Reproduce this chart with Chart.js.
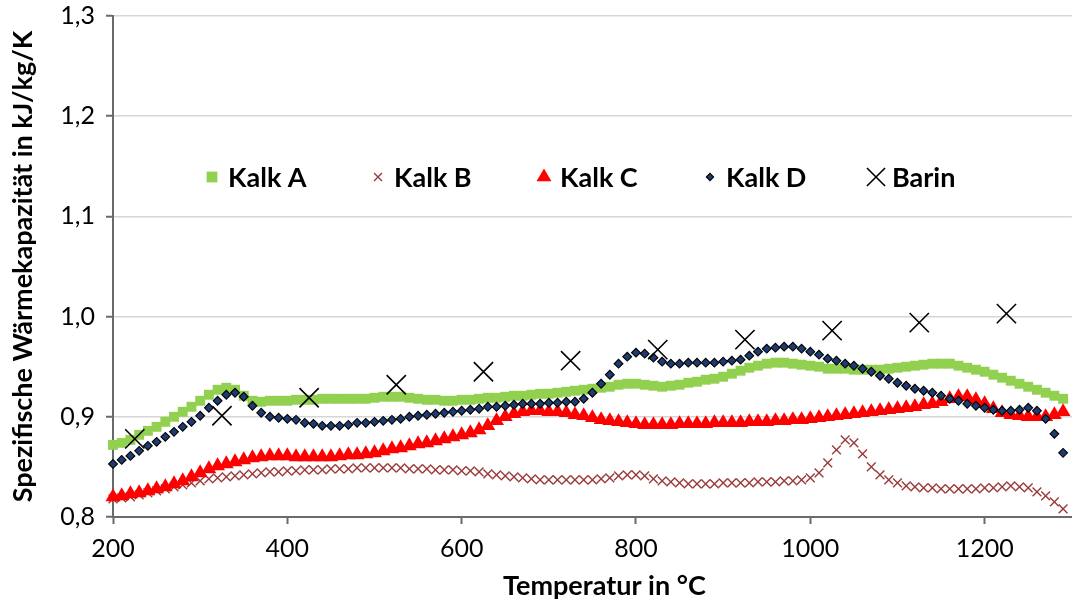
<!DOCTYPE html>
<html>
<head>
<meta charset="utf-8">
<title>Spezifische Wärmekapazität</title>
<script src="https://cdn.jsdelivr.net/npm/chart.js@4"></script>
<style>
  html, body { margin: 0; padding: 0; background: #fff; overflow: hidden; }
  #wrap { width: 1087px; height: 599px; }
</style>
</head>
<body>
<div id="wrap"><canvas id="c" width="1087" height="599"></canvas></div>
<script>
// Temperatures of the measured samples (°C)
const temperatures = [
  200, 210, 220, 230, 240, 250, 260, 270, 280, 290,
  300, 310, 320, 330, 340, 350, 360, 370, 380, 390,
  400, 410, 420, 430, 440, 450, 460, 470, 480, 490,
  500, 510, 520, 530, 540, 550, 560, 570, 580, 590,
  600, 610, 620, 630, 640, 650, 660, 670, 680, 690,
  700, 710, 720, 730, 740, 750, 760, 770, 780, 790,
  800, 810, 820, 830, 840, 850, 860, 870, 880, 890,
  900, 910, 920, 930, 940, 950, 960, 970, 980, 990,
  1000, 1010, 1020, 1030, 1040, 1050, 1060, 1070, 1080, 1090,
  1100, 1110, 1120, 1130, 1140, 1150, 1160, 1170, 1180, 1190,
  1200, 1210, 1220, 1230, 1240, 1250, 1260, 1270, 1280, 1290
];

// Specific heat capacity in kJ/kg/K
const kalkA = [
  0.872, 0.874, 0.877, 0.882, 0.886, 0.890, 0.895, 0.900, 0.905, 0.910,
  0.916, 0.922, 0.927, 0.929, 0.927, 0.921, 0.916, 0.915, 0.916, 0.916,
  0.916, 0.917, 0.917, 0.917, 0.918, 0.918, 0.918, 0.918, 0.918, 0.918,
  0.919, 0.920, 0.920, 0.920, 0.919, 0.918, 0.917, 0.917, 0.916, 0.916,
  0.917, 0.917, 0.918, 0.919, 0.919, 0.920, 0.921, 0.921, 0.922, 0.923,
  0.923, 0.924, 0.925, 0.926, 0.927, 0.928, 0.929, 0.930, 0.932, 0.933,
  0.933, 0.932, 0.931, 0.930, 0.931, 0.932, 0.934, 0.935, 0.937, 0.938,
  0.940, 0.943, 0.946, 0.949, 0.951, 0.953, 0.954, 0.954, 0.953, 0.952,
  0.951, 0.950, 0.948, 0.948, 0.948, 0.947, 0.947, 0.947, 0.947, 0.948,
  0.949, 0.950, 0.951, 0.952, 0.953, 0.953, 0.953, 0.951, 0.949, 0.947,
  0.945, 0.942, 0.939, 0.936, 0.933, 0.930, 0.927, 0.924, 0.921, 0.918
];

const kalkB = [
  0.818, 0.819, 0.820, 0.822, 0.824, 0.826, 0.828, 0.830, 0.832, 0.834,
  0.836, 0.838, 0.839, 0.840, 0.841, 0.842, 0.843, 0.844, 0.845, 0.845,
  0.846, 0.846, 0.847, 0.847, 0.847, 0.848, 0.848, 0.848, 0.849, 0.849,
  0.849, 0.849, 0.849, 0.849, 0.848, 0.848, 0.848, 0.847, 0.847, 0.847,
  0.846, 0.846, 0.845, 0.843, 0.842, 0.841, 0.840, 0.839, 0.838, 0.837,
  0.837, 0.837, 0.837, 0.837, 0.837, 0.837, 0.838, 0.839, 0.841, 0.842,
  0.842, 0.841, 0.838, 0.836, 0.835, 0.834, 0.833, 0.833, 0.833, 0.833,
  0.834, 0.834, 0.834, 0.834, 0.835, 0.835, 0.835, 0.836, 0.836, 0.837,
  0.839, 0.844, 0.854, 0.867, 0.877, 0.874, 0.863, 0.850, 0.842, 0.837,
  0.834, 0.831, 0.830, 0.829, 0.829, 0.828, 0.828, 0.828, 0.828, 0.828,
  0.829, 0.829, 0.830, 0.831, 0.830, 0.829, 0.825, 0.821, 0.815, 0.808
];

const kalkC = [
  0.820, 0.821, 0.823, 0.824, 0.826, 0.828, 0.830, 0.833, 0.836, 0.840,
  0.844, 0.848, 0.851, 0.853, 0.855, 0.857, 0.859, 0.860, 0.861, 0.861,
  0.861, 0.860, 0.860, 0.860, 0.860, 0.860, 0.861, 0.862, 0.862, 0.863,
  0.864, 0.866, 0.868, 0.869, 0.871, 0.873, 0.874, 0.876, 0.878, 0.880,
  0.882, 0.884, 0.887, 0.891, 0.896, 0.900, 0.903, 0.905, 0.906, 0.906,
  0.905, 0.905, 0.904, 0.902, 0.901, 0.899, 0.897, 0.896, 0.895, 0.894,
  0.893, 0.892, 0.892, 0.892, 0.892, 0.893, 0.893, 0.893, 0.893, 0.894,
  0.894, 0.894, 0.894, 0.895, 0.895, 0.895, 0.896, 0.896, 0.897, 0.897,
  0.898, 0.899, 0.900, 0.901, 0.902, 0.903, 0.904, 0.905, 0.906, 0.907,
  0.908, 0.909, 0.910, 0.912, 0.913, 0.915, 0.918, 0.920, 0.920, 0.917,
  0.913, 0.908, 0.904, 0.902, 0.901, 0.900, 0.900, 0.900, 0.902, 0.905
];

const kalkD = [
  0.853, 0.857, 0.861, 0.866, 0.871, 0.875, 0.880, 0.885, 0.890, 0.895,
  0.901, 0.909, 0.916, 0.922, 0.924, 0.920, 0.911, 0.904, 0.900, 0.899,
  0.898, 0.897, 0.894, 0.893, 0.891, 0.891, 0.891, 0.892, 0.894, 0.894,
  0.895, 0.896, 0.897, 0.898, 0.900, 0.901, 0.902, 0.903, 0.904, 0.905,
  0.906, 0.907, 0.908, 0.910, 0.910, 0.911, 0.912, 0.913, 0.913, 0.913,
  0.914, 0.914, 0.915, 0.915, 0.918, 0.924, 0.933, 0.942, 0.953, 0.960,
  0.964, 0.963, 0.959, 0.955, 0.953, 0.953, 0.954, 0.954, 0.954, 0.954,
  0.955, 0.956, 0.957, 0.961, 0.965, 0.968, 0.969, 0.970, 0.970, 0.968,
  0.965, 0.962, 0.958, 0.956, 0.953, 0.951, 0.948, 0.945, 0.941, 0.938,
  0.934, 0.931, 0.928, 0.926, 0.924, 0.921, 0.918, 0.916, 0.913, 0.911,
  0.909, 0.907, 0.906, 0.906, 0.907, 0.909, 0.906, 0.898, 0.883, 0.864
];

// Reference values (Barin)
const barinTemperatures = [225, 325, 425, 525, 625, 725, 825, 925, 1025, 1125, 1225];
const barin = [0.878, 0.901, 0.919, 0.932, 0.945, 0.956, 0.967, 0.977, 0.986, 0.994, 1.003];

const xTicks = [200, 400, 600, 800, 1000, 1200];
const yTicks = [0.8, 0.9, 1.0, 1.1, 1.2, 1.3];
const xTitle = 'Temperatur in °C';
const yTitle = 'Spezifische Wärmekapazität in kJ/kg/K';

const toPoints = (xs, ys) => xs.map((x, i) => ({ x: x, y: ys[i] }));

const AXIS_GREY = '#6a6a6a';
const FONT = 'Lato';

// Legend drawn inside the plot area in one row, plus the x axis title
const innerLegend = {
  id: 'innerLegend',
  afterDraw(chart) {
    const { ctx, chartArea } = chart;
    const y = chartArea.top + 161;
    ctx.save();
    ctx.font = 'bold 27px ' + FONT;
    ctx.textBaseline = 'alphabetic';
    ctx.textAlign = 'left';
    chart.data.datasets.forEach((ds, i) => {
      const cx = chartArea.left + 99 + i * 166;
      ctx.fillStyle = ds.pointBackgroundColor;
      ctx.strokeStyle = ds.pointBorderColor;
      ctx.lineWidth = ds.pointBorderWidth;
      Chart.helpers.drawPoint(ctx, {
        pointStyle: ds.pointStyle,
        radius: ds.legendRadius,
        borderWidth: ds.pointBorderWidth,
        rotation: 0
      }, cx, y);
      ctx.fillStyle = '#000';
      ctx.fillText(ds.label, cx + 16, y + 10);
    });
    // x axis title, set slightly right of the plot centre
    ctx.textAlign = 'center';
    ctx.fillText(xTitle, (chartArea.left + chartArea.right) / 2 + 12, chart.height - 4);
    ctx.restore();
  }
};

new Chart(document.getElementById('c'), {
  type: 'scatter',
  data: {
    datasets: [
      {
        label: 'Kalk A', data: toPoints(temperatures, kalkA), order: 5,
        pointStyle: 'rect', pointRadius: 7, legendRadius: 7.6,
        pointBackgroundColor: '#92D050', pointBorderColor: '#92D050', pointBorderWidth: 0,
        showLine: false, clip: false
      },
      {
        label: 'Kalk B', data: toPoints(temperatures, kalkB), order: 4,
        pointStyle: 'crossRot', pointRadius: 6.2, legendRadius: 5.6,
        pointBackgroundColor: '#9B3A3A', pointBorderColor: '#9B3A3A', pointBorderWidth: 1.4,
        showLine: false, clip: false
      },
      {
        label: 'Kalk C', data: toPoints(temperatures, kalkC), order: 3,
        pointStyle: 'triangle', pointRadius: 8.6, legendRadius: 8.6,
        pointBackgroundColor: '#FF0000', pointBorderColor: '#FF0000', pointBorderWidth: 0,
        showLine: false, clip: false
      },
      {
        label: 'Kalk D', data: toPoints(temperatures, kalkD), order: 2,
        pointStyle: 'rectRot', pointRadius: 4.4, legendRadius: 3.6,
        pointBackgroundColor: '#1D3B70', pointBorderColor: '#000000', pointBorderWidth: 1.1,
        showLine: false, clip: false
      },
      {
        label: 'Barin', data: toPoints(barinTemperatures, barin), order: 1,
        pointStyle: 'crossRot', pointRadius: 13.6, legendRadius: 12.8,
        pointBackgroundColor: '#000000', pointBorderColor: '#000000', pointBorderWidth: 1.6,
        showLine: false, clip: false
      }
    ]
  },
  options: {
    responsive: false,
    animation: false,
    events: [],
    layout: { padding: 0 },
    plugins: {
      legend: { display: false },
      tooltip: { enabled: false }
    },
    scales: {
      x: {
        type: 'linear',
        min: 200,
        max: 1300,
        afterBuildTicks: (scale) => { scale.ticks = xTicks.map(v => ({ value: v })); },
        afterFit: (scale) => { scale.height = 82; },
        ticks: {
          font: { family: FONT, size: 25, lineHeight: 1.12 },
          color: '#000',
          padding: 11,
          maxRotation: 0,
          autoSkip: false,
          callback: (v) => String(v)
        },
        grid: {
          drawOnChartArea: false,
          drawTicks: true,
          tickLength: 7,
          tickColor: AXIS_GREY,
          tickWidth: 2
        },
        border: { display: true, color: AXIS_GREY, width: 2 },
        title: { display: false }
      },
      y: {
        type: 'linear',
        min: 0.8,
        max: 1.3,
        afterBuildTicks: (scale) => { scale.ticks = yTicks.map(v => ({ value: v })); },
        afterFit: (scale) => { scale.width = 113; },
        ticks: {
          font: { family: FONT, size: 25, lineHeight: 0.4 },
          color: '#000',
          padding: 11,
          callback: (v) => v.toFixed(1).replace('.', ',')
        },
        grid: {
          color: '#D6D6D6',
          lineWidth: 1.5,
          drawTicks: true,
          tickLength: 7,
          tickColor: AXIS_GREY,
          tickWidth: 2
        },
        border: { display: true, color: AXIS_GREY, width: 2 },
        title: {
          display: true,
          text: yTitle,
          color: '#000',
          font: { family: FONT, size: 27, weight: 'bold', lineHeight: 1.0 },
          padding: { top: 10, bottom: 0 }
        }
      }
    }
  },
  plugins: [innerLegend]
});
</script>
</body>
</html>
